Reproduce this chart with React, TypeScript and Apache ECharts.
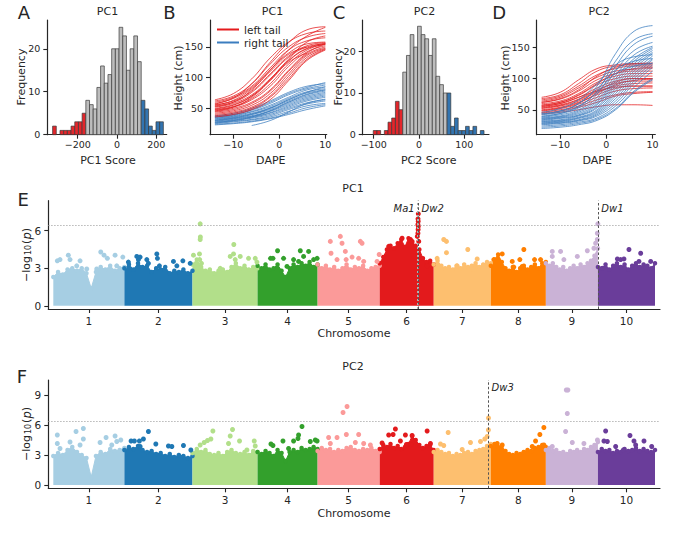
import { useEffect, useRef } from 'react'
import * as echarts from 'echarts'

const FONT = 'DejaVu Sans'
const INK = '#262626'

// ---- panel A / C : histograms of PC scores ----
const PC1_BIN_START = -328
const PC1_BIN_WIDTH = 18.8
const PC1_LEFT_TAIL = [2, 0, 1, 1, 1, 2, 3, 3, 5]
const PC1_MIDDLE = [8, 7, 6, 11, 16, 12, 14, 20, 20, 25, 23, 15, 20, 23, 17]
const PC1_RIGHT_TAIL = [8, 6, 2, 1, 3, 3]

const PC2_BIN_START = -101
const PC2_BIN_WIDTH = 8.15
const PC2_LEFT_TAIL = [1, 1, 0, 1, 3, 4, 8, 6]
const PC2_MIDDLE = [15, 19, 24, 21, 26, 24, 23, 19, 23, 14, 12, 10]
const PC2_RIGHT_TAIL = [10, 2, 4, 1, 1, 2, 1, 2, 0, 1]

// ---- panel B / D : height curves, sampled at these DAPE ----
const DAPE = [-14, -10, -6, -2, 2, 6, 10]

const PC1_LEFT_CURVES = [
  [64, 74, 98, 132, 158, 172, 176],
  [62, 70, 90, 122, 150, 166, 172],
  [60, 68, 86, 116, 145, 160, 165],
  [58, 66, 84, 113, 140, 155, 158],
  [56, 62, 78, 106, 135, 152, 157],
  [54, 60, 76, 104, 133, 150, 155],
  [52, 58, 72, 98, 128, 148, 156],
  [50, 56, 70, 96, 127, 147, 154],
  [48, 53, 66, 90, 122, 145, 155],
  [47, 52, 64, 86, 118, 142, 152],
  [45, 50, 60, 80, 112, 140, 155],
  [44, 48, 58, 78, 110, 138, 150],
  [42, 46, 55, 74, 106, 136, 148],
  [40, 44, 52, 70, 102, 133, 147],
  [38, 42, 50, 68, 98, 130, 146],
  [36, 40, 48, 64, 95, 128, 145],
  [57, 67, 90, 125, 157, 178, 183],
  [53, 60, 80, 112, 145, 168, 182],
  [49, 55, 70, 97, 130, 158, 168],
  [46, 52, 68, 95, 125, 140, null],
  [55, 63, 82, 110, 138, 150, null],
]
const PC1_RIGHT_CURVES = [
  [38, 42, 50, 62, 76, 86, 90],
  [37, 40, 47, 58, 72, 82, 88],
  [36, 39, 45, 55, 68, 80, 85],
  [35, 38, 44, 53, 66, 77, 82],
  [34, 37, 42, 51, 64, 75, 80],
  [33, 36, 41, 50, 62, 73, 80],
  [32, 35, 40, 48, 60, 70, 76],
  [31, 34, 38, 46, 58, 68, 74],
  [30, 33, 37, 45, 56, 66, 72],
  [29, 32, 36, 43, 54, 64, 70],
  [28, 31, 35, 42, 52, 62, 68],
  [27, 30, 34, 40, 50, 59, 65],
  [26, 29, 32, 38, 48, 57, 62],
  [25, 28, 31, 36, 45, 54, 58],
  [24, 26, 29, 34, 42, 51, 56],
  [23, 25, 28, 33, 40, 48, 54],
  [36, 40, 48, 60, 74, 84, 92],
  [30, 34, 40, 50, 64, 76, 85],
  [null, null, 22, 30, 44, 58, 64],
  [27, 30, 36, 46, 60, 72, 78],
]
const PC2_LEFT_CURVES = [
  [70, 78, 98, 116, 122, 124, 124],
  [68, 74, 92, 112, 120, 122, 122],
  [66, 72, 88, 106, 116, 120, 120],
  [64, 70, 85, 102, 112, 115, 116],
  [62, 67, 80, 98, 108, 112, 112],
  [60, 64, 76, 94, 104, 108, 108],
  [58, 62, 73, 90, 100, 104, 104],
  [56, 60, 70, 85, 96, 100, 100],
  [54, 58, 67, 82, 92, 96, 96],
  [52, 56, 64, 78, 88, 92, 93],
  [50, 54, 62, 74, 84, 88, 88],
  [48, 52, 59, 70, 80, 84, 85],
  [46, 50, 56, 66, 74, 78, 79],
  [45, 48, 54, 62, 72, 76, 78],
  [43, 46, 50, 55, 58, 58, 57],
  [62, 68, 82, 104, 118, 124, 125],
  [57, 62, 74, 92, 108, 116, 118],
  [53, 57, 66, 80, 94, 100, 100],
  [49, 53, 61, 76, 90, 97, 99],
  [55, 60, 70, 80, 86, 88, 88],
]
const PC2_RIGHT_CURVES = [
  [44, 48, 60, 88, 140, 176, 185],
  [42, 46, 56, 80, 128, 162, 172],
  [40, 44, 53, 75, 120, 155, 168],
  [38, 42, 50, 70, 112, 145, 158],
  [37, 40, 48, 66, 105, 138, 152],
  [36, 39, 46, 63, 100, 132, 150],
  [35, 38, 44, 60, 96, 128, 148],
  [34, 37, 42, 58, 92, 124, 145],
  [33, 36, 41, 55, 88, 120, 142],
  [32, 34, 40, 53, 84, 116, 140],
  [31, 33, 38, 50, 80, 112, 136],
  [30, 32, 37, 48, 76, 108, 132],
  [29, 31, 36, 46, 72, 104, 130],
  [28, 30, 34, 44, 68, 100, 126],
  [27, 29, 33, 42, 64, 96, 122],
  [26, 28, 32, 40, 60, 92, 118],
  [24, 26, 30, 37, 56, 86, 112],
  [22, 24, 28, 35, 52, 80, 100],
  [20, 22, 26, 33, 50, 78, 98],
  [46, 52, 66, 92, 122, 135, 138],
  [43, 48, 60, 84, 114, 128, 132],
  [39, 44, 55, 78, 108, 120, 124],
]

// ---- panels E / F : GWAS, positions in cumulative genome units ----
const CHROMOSOMES = ['1', '2', '3', '4', '5', '6', '7', '8', '9', '10']
const CHR_LENGTH = [71, 68, 65, 60, 62, 54, 57, 55, 52, 57]
const CHR_COLORS = ['#a6cee3', '#1f78b4', '#b2df8a', '#33a02c', '#fb9a99', '#e31a1c', '#fdbf6f', '#ff7f00', '#cab2d6', '#6a3d9a']
const THRESHOLD = 6.4

// upper edge of the dense SNP cloud, evenly spaced along each chromosome
const PC1_ENVELOPE = [
  [2.3, 2.7, 2.5, 2.9, 3.0, 2.8, 3.0, 2.6, 1.4, 2.7, 3.1, 2.9, 3.2, 2.8, 3.0, 3.1],
  [3.0, 3.3, 2.9, 3.4, 3.1, 3.2, 2.7, 3.0, 2.9, 3.1, 2.6, 2.8, 2.7, 2.9, 2.6, 2.8],
  [3.3, 3.7, 3.1, 2.8, 2.9, 2.6, 2.8, 2.9, 2.7, 3.1, 3.4, 3.0, 3.2, 2.9, 3.1, 3.0],
  [3.2, 3.0, 3.3, 2.9, 3.0, 3.3, 2.8, 2.3, 3.0, 3.3, 3.1, 3.4, 3.2, 3.5, 3.1, 3.3],
  [3.3, 3.0, 3.2, 2.9, 3.1, 2.8, 3.0, 3.3, 2.9, 3.1, 3.0, 3.2, 2.8, 3.0, 3.1, 3.2],
  [3.4, 3.9, 4.5, 4.8, 4.6, 5.0, 5.3, 4.7, 5.4, 5.0, 4.8, 4.5, 3.8, 3.5, 3.6, 3.3],
  [3.3, 3.6, 3.2, 3.0, 3.1, 2.9, 3.2, 3.0, 3.3, 3.1, 3.2, 3.4, 3.1, 3.3, 3.5, 3.4],
  [3.2, 3.7, 4.1, 3.5, 3.0, 2.8, 3.1, 2.7, 3.0, 3.2, 2.9, 3.1, 3.3, 3.0, 3.4, 3.5],
  [3.4, 3.2, 3.4, 3.1, 2.9, 3.1, 2.8, 3.0, 3.2, 3.0, 3.3, 3.1, 3.4, 3.6, 4.0, 4.6],
  [3.1, 3.0, 3.3, 2.9, 3.2, 3.4, 3.1, 3.3, 2.9, 3.2, 3.4, 3.1, 3.3, 3.2, 3.0, 3.4],
]
const PC2_ENVELOPE = [
  [2.9, 3.2, 3.0, 3.5, 3.8, 3.3, 3.0, 2.7, 0.8, 2.9, 3.3, 3.1, 3.6, 3.4, 3.5, 3.7],
  [3.5, 3.8, 3.6, 3.9, 3.5, 3.3, 3.4, 3.1, 3.2, 2.9, 3.1, 2.8, 3.0, 2.9, 2.7, 2.9],
  [3.2, 3.6, 3.3, 3.5, 3.1, 3.0, 3.2, 2.9, 3.3, 3.5, 3.2, 3.1, 3.3, 3.0, 3.4, 3.3],
  [3.3, 3.1, 3.4, 3.2, 2.9, 3.5, 3.2, 2.4, 3.3, 3.5, 3.3, 3.7, 3.5, 3.6, 3.8, 3.6],
  [3.4, 3.7, 3.5, 3.6, 3.3, 3.5, 3.4, 3.7, 3.8, 3.5, 3.4, 3.6, 3.5, 3.7, 3.4, 3.3],
  [3.6, 4.0, 3.8, 4.1, 3.7, 3.9, 3.6, 3.8, 4.1, 4.9, 4.5, 4.0, 3.7, 3.9, 4.0, 3.5],
  [3.3, 3.5, 3.3, 3.1, 3.2, 2.9, 3.1, 3.0, 3.2, 3.3, 3.1, 3.4, 3.5, 3.6, 3.9, 4.1],
  [3.9, 4.1, 3.8, 3.9, 3.4, 3.1, 3.0, 3.2, 3.1, 3.3, 3.5, 3.4, 3.7, 3.8, 4.0, 3.8],
  [3.5, 3.7, 3.4, 3.5, 3.2, 3.3, 3.1, 3.4, 3.3, 3.5, 3.3, 3.6, 3.5, 3.8, 4.0, 4.3],
  [3.3, 3.6, 3.4, 3.5, 3.2, 3.4, 3.3, 3.6, 3.4, 3.5, 3.7, 3.4, 3.6, 3.4, 3.3, 3.5],
]

// SNPs standing above the cloud: [position, -log10(p)]
const PC1_PEAKS = [
  [[4.0, 3.6], [6.7, 3.7], [15, 4.05], [16.7, 3.7], [23.4, 3.2], [26.7, 3.6], [33.4, 2.95], [43.4, 2.95], [47.4, 4.3], [50.7, 4.05], [54, 3.8], [61.7, 4.05], [63.4, 3.2], [69.4, 3.9]],
  [[75, 3.5], [83.4, 3.95], [85, 3.7], [86.7, 3.9], [93.4, 3.7], [95, 3.4], [103.4, 4.15], [104, 3.8], [106, 3.2], [120, 3.55], [123.4, 3.2], [129.4, 3.6], [136.7, 3.4]],
  [[140, 4.05], [146, 4.15], [146.2, 3.7], [146.7, 5.3], [146.9, 5.5], [146.7, 6.55], [148, 3.4], [166.7, 3.0], [176.7, 3.95], [180, 4.15], [180.3, 4.9], [181.7, 3.7], [186.7, 3.95], [195, 3.8], [201.7, 3.8], [203.4, 3.5]],
  [[217, 3.8], [219.4, 3.8], [224, 4.4], [230, 3.8], [233.4, 3.15], [240, 3.7], [245, 3.55], [246.7, 4.4], [250, 3.95], [255, 4.35], [260, 3.7], [263.5, 3.8]],
  [[276.7, 5.15], [277.4, 4.2], [283.4, 3.7], [286.7, 5.55], [288.4, 5.0], [291.7, 4.35], [292.5, 3.7], [298.4, 3.9], [305, 3.8], [306.7, 5.15], [308.4, 5.0], [310, 3.55], [323.4, 3.55], [325.5, 4.1]],
  [[335, 4.75], [348.4, 5.4], [356.7, 5.3], [358.4, 5.15], [363.6, 5.55], [364.2, 5.8], [364.4, 6.1], [364.6, 6.35], [364.2, 6.5], [364.5, 6.75], [364.3, 6.95], [364.6, 7.35], [365, 5.15], [373.4, 3.2]],
  [[383.4, 3.8], [390, 5.3], [392.7, 5.15], [392.7, 4.25], [403.4, 3.2], [414, 4.5], [420, 2.9], [423.4, 3.75]],
  [[440, 3.7], [448.4, 4.15], [458.4, 3.55], [460, 3.1], [466, 3.7], [468.4, 3.15], [470, 4.5], [480.7, 3.7], [486.7, 3.7]],
  [[498.4, 4.35], [498.4, 3.95], [506.7, 4.35], [510, 3.7], [523.4, 3.95], [533.4, 4.4], [540, 4.6], [541.7, 5.0], [543.4, 5.3], [543.4, 5.8], [543.9, 6.55]],
  [[548.4, 3.0], [563.4, 3.75], [566.7, 3.7], [570, 3.75], [575, 4.5], [585, 3.55], [586.7, 4.2], [591.7, 3.1], [596.7, 3.55]],
]
const PC2_PEAKS = [
  [[4.0, 5.0], [4.0, 4.15], [6.7, 3.65], [16.7, 4.3], [22.7, 5.35], [26.7, 4.0], [30, 5.65], [30, 4.6], [46.7, 4.25], [52.7, 4.75], [58.4, 4.0], [61.7, 4.9], [63.4, 4.35], [67.4, 4.5]],
  [[77.7, 4.4], [81, 4.4], [86, 4.4], [86.7, 3.85], [90, 4.6], [95, 5.35], [102.4, 4.1], [115, 3.9], [118.4, 3.85], [130, 3.95], [137.4, 3.5]],
  [[146.7, 4.0], [150.7, 4.25], [154, 4.45], [157.4, 4.6], [159.4, 5.4], [175, 4.15], [176.7, 4.9], [179, 5.55], [186, 4.4], [193.4, 3.5], [200.7, 4.4], [201.7, 3.9]],
  [[217.4, 4.1], [219.4, 3.95], [229.4, 4.4], [235, 3.65], [240, 4.4], [244.4, 4.65], [245, 5.0], [248.4, 5.85], [256.7, 4.35], [261.7, 4.5], [263.5, 4.4]],
  [[275, 4.75], [276.7, 4.15], [283.4, 4.75], [289.4, 7.25], [292.7, 5.05], [293.4, 7.85], [301.7, 4.25], [305, 5.05], [310, 4.15], [316.7, 4.0]],
  [[328.4, 4.2], [335, 5.0], [339.4, 5.05], [341.7, 5.6], [346.7, 4.4], [351.7, 5.0], [352.7, 4.05], [357.4, 4.05], [358.4, 4.95], [373.4, 5.4], [376.7, 4.15]],
  [[386.7, 4.1], [390, 3.95], [394.4, 5.25], [408.4, 3.55], [416.7, 4.25], [426.7, 4.35], [431, 4.6], [433.4, 4.85], [434.6, 5.5], [434.7, 6.7]],
  [[443.4, 4.15], [448.4, 4.0], [470, 3.25], [478.4, 3.85], [481.7, 4.4], [486, 5.05], [490, 4.0], [490, 5.75]],
  [[498.4, 3.85], [503.4, 3.15], [511.7, 5.35], [512.4, 9.5], [513.4, 7.15], [514, 9.5], [518.4, 4.25], [530, 4.15], [543.5, 4.5]],
  [[550, 4.4], [551.7, 5.4], [553.4, 4.35], [561.7, 3.85], [569.4, 3.5], [576, 4.95], [580, 4.4], [581.7, 4.0], [590, 4.4], [597.7, 3.85]],
]

const PC1_GENES = [
  { name: 'Ma1', pos: 364.0, side: 'left' },
  { name: 'Dw2', pos: 364.8, side: 'right' },
  { name: 'Dw1', pos: 544.4, side: 'right' },
]
const PC2_GENES = [{ name: 'Dw3', pos: 434.7, side: 'right' }]

const HIST_COLORS = ['#e3262b', '#bdbdbd', '#3274b0']
const LEFT_COLOR = '#e41a1c'
const RIGHT_COLOR = '#3b7dbf'

const minus = (v: number) => String(v).replace('-', '\u2212')

function histBins(start: number, width: number, groups: number[][]) {
  const out: number[][] = []
  let i = 0
  groups.forEach((counts, g) => {
    counts.forEach((c) => {
      out.push([start + i * width, start + (i + 1) * width, c, g])
      i++
    })
  })
  return out
}

const chrStarts = CHR_LENGTH.map((_, i) => CHR_LENGTH.slice(0, i).reduce((a, b) => a + b, 0))
const chrCenters = chrStarts.map((s, i) => s + CHR_LENGTH[i] / 2)
const genomeEnd = chrStarts[9] + CHR_LENGTH[9]

function axisBase(fontSize: number) {
  return {
    axisLine: { show: true, onZero: false, lineStyle: { color: INK, width: 1.2 } },
    axisTick: { show: true, length: 4, lineStyle: { color: INK, width: 1.1 } },
    axisLabel: { color: INK, fontSize, fontFamily: FONT },
    splitLine: { show: false },
  }
}

function valueAxis(idx: number, min: number, max: number, ticks: number[], fontSize: number, margin: number) {
  const base = axisBase(fontSize)
  return {
    type: 'value',
    gridIndex: idx,
    min,
    max,
    ...base,
    axisTick: { ...base.axisTick, customValues: ticks },
    axisLabel: { ...base.axisLabel, customValues: ticks, margin, formatter: minus },
  }
}

function histSeries(axis: number, data: number[][]) {
  return {
    type: 'custom',
    xAxisIndex: axis,
    yAxisIndex: axis,
    silent: true,
    encode: { x: [0, 1], y: 2 },
    data,
    renderItem: (_params: any, api: any) => {
      const count = api.value(2)
      if (!count) return null
      const tl = api.coord([api.value(0), count])
      const br = api.coord([api.value(1), 0])
      return {
        type: 'rect',
        shape: { x: tl[0], y: tl[1], width: br[0] - tl[0], height: br[1] - tl[1] },
        style: { fill: HIST_COLORS[api.value(3)], stroke: '#3a3a3a', lineWidth: 0.7 },
      }
    },
  }
}

function curveSeries(axis: number, rows: (number | null)[][], color: string, name: string) {
  return rows.map((r) => ({
    type: 'line',
    name,
    xAxisIndex: axis,
    yAxisIndex: axis,
    data: DAPE.map((d, i) => [d, r[i]]),
    smooth: 0.45,
    symbol: 'none',
    showSymbol: false,
    connectNulls: false,
    silent: true,
    itemStyle: { color },
    lineStyle: { color, width: 0.9, opacity: 0.85 },
  }))
}

function manhattanSeries(axis: number, envelope: number[][], peaks: number[][][], genes: any[]) {
  const out: any[] = []
  CHR_LENGTH.forEach((len, c) => {
    const env = envelope[c]
    const color = CHR_COLORS[c]
    out.push({
      type: 'line',
      xAxisIndex: axis,
      yAxisIndex: axis,
      data: env.map((h, k) => [chrStarts[c] + (k * len) / (env.length - 1), h]),
      symbol: 'circle',
      symbolSize: 4.5,
      showSymbol: true,
      showAllSymbol: true,
      silent: true,
      z: 2,
      itemStyle: { color },
      lineStyle: { color, width: 1 },
      areaStyle: { color, opacity: 1 },
    })
    out.push({
      type: 'scatter',
      xAxisIndex: axis,
      yAxisIndex: axis,
      data: peaks[c],
      symbolSize: 5,
      silent: true,
      z: 3,
      itemStyle: { color, opacity: 1 },
    })
  })
  out.push({
    type: 'scatter',
    xAxisIndex: axis,
    yAxisIndex: axis,
    data: [],
    silent: true,
    z: 4,
    markLine: {
      silent: true,
      symbol: 'none',
      label: { show: false },
      data: [
        { yAxis: THRESHOLD, lineStyle: { color: '#9a9a9a', type: [1.2, 1.8], width: 0.9 } },
        ...genes.map((g: any) => ({
          xAxis: g.pos,
          lineStyle: g.name === 'Ma1'
            ? { color: '#b0b0b0', type: [2, 2], width: 2 }
            : { color: '#555555', type: [2.5, 2], width: 1 },
        })),
      ],
    },
  })
  return out
}

function label(text: string, x: number, y: number, fontSize = 11, extra: any = {}) {
  return {
    type: 'text',
    x,
    y,
    silent: true,
    style: { text, fill: INK, fontSize, fontFamily: FONT, align: 'center', verticalAlign: 'middle', ...extra },
  }
}

function vlabel(text: string, x: number, y: number, extra: any = {}) {
  return { ...label(text, x, y, 11, extra), rotation: Math.PI / 2 }
}

export default function App() {
  const ref = useRef<HTMLDivElement | null>(null)

  useEffect(() => {
    document.body.style.margin = '0'
    if (!ref.current) return
    const chart = echarts.init(ref.current, undefined, { renderer: 'svg' })

    const chrAxis = (idx: number) => ({
      ...valueAxis(idx, -5, genomeEnd + 5, chrCenters, 10.5, 6),
      axisLabel: {
        ...axisBase(10.5).axisLabel,
        customValues: chrCenters,
        margin: 6,
        formatter: (v: number) => CHROMOSOMES[chrCenters.findIndex((c) => Math.abs(c - v) < 0.01)] ?? '',
      },
    })

    const logName = {
      text: '\u2212log{s|10}({i|p})',
      rich: {
        s: { fontSize: 8, fontFamily: FONT, fill: INK, verticalAlign: 'bottom', lineHeight: 8, padding: [0, 1, 0, 1] },
        i: { fontSize: 11.5, fontFamily: FONT, fill: INK, fontStyle: 'italic' },
      },
    }

    const geneTexts = (genes: any[], y: number) =>
      genes.map((g) => {
        const gx = 48.3 + ((g.pos + 5) / (genomeEnd + 10)) * 611.7
        return label(g.name, g.side === 'left' ? gx - 3 : gx + 3, y, 10, {
          fontStyle: 'italic',
          align: g.side === 'left' ? 'right' : 'left',
        })
      })

    chart.setOption({
      animation: false,
      textStyle: { fontFamily: FONT },
      legend: {
        data: ['left tail', 'right tail'],
        left: 212,
        top: 19,
        orient: 'vertical',
        itemGap: 2,
        itemWidth: 22,
        itemHeight: 2,
        icon: 'rect',
        selectedMode: false,
        textStyle: { fontSize: 10.5, fontFamily: FONT, color: INK },
      },
      grid: [
        { left: 47.3, top: 20, width: 119.4, height: 114.7 },
        { left: 210, top: 20, width: 116.7, height: 114.7 },
        { left: 362.7, top: 20, width: 126.3, height: 114.7 },
        { left: 536.7, top: 20, width: 118.6, height: 114.7 },
        { left: 48.3, top: 200.7, width: 611.7, height: 108.3 },
        { left: 48.3, top: 380, width: 611.7, height: 108.3 },
      ],
      xAxis: [
        valueAxis(0, -355, 253, [-200, 0, 200], 9.5, 5),
        valueAxis(1, -15.07, 10.3, [-10, 0, 10], 9.5, 5),
        valueAxis(2, -124.3, 154.5, [-100, 0, 100], 9.5, 5),
        valueAxis(3, -15.07, 10.6, [-10, 0, 10], 9.5, 5),
        chrAxis(4),
        chrAxis(5),
      ],
      yAxis: [
        valueAxis(0, 0, 26.7, [0, 10, 20], 9.5, 7),
        valueAxis(1, 7, 194, [50, 100, 150], 9.5, 7),
        valueAxis(2, 0, 27.5, [0, 10, 20], 9.5, 7),
        valueAxis(3, 10, 194, [50, 100, 150], 9.5, 7),
        valueAxis(4, -0.25, 8.4, [0, 3, 6], 10.5, 7),
        valueAxis(5, -0.33, 10.5, [0, 3, 6, 9], 10.5, 7),
      ],
      series: [
        histSeries(0, histBins(PC1_BIN_START, PC1_BIN_WIDTH, [PC1_LEFT_TAIL, PC1_MIDDLE, PC1_RIGHT_TAIL])),
        ...curveSeries(1, PC1_RIGHT_CURVES, RIGHT_COLOR, 'right tail'),
        ...curveSeries(1, PC1_LEFT_CURVES, LEFT_COLOR, 'left tail'),
        histSeries(2, histBins(PC2_BIN_START, PC2_BIN_WIDTH, [PC2_LEFT_TAIL, PC2_MIDDLE, PC2_RIGHT_TAIL])),
        ...curveSeries(3, PC2_LEFT_CURVES, LEFT_COLOR, 'left tail'),
        ...curveSeries(3, PC2_RIGHT_CURVES, RIGHT_COLOR, 'right tail'),
        ...manhattanSeries(4, PC1_ENVELOPE, PC1_PEAKS, PC1_GENES),
        ...manhattanSeries(5, PC2_ENVELOPE, PC2_PEAKS, PC2_GENES),
      ],
      graphic: [
        label('A', 24, 12.5, 18),
        label('B', 169.3, 12, 18),
        label('C', 339, 12, 18),
        label('D', 499.3, 12, 18),
        label('E', 23.3, 199.3, 18),
        label('F', 22, 376, 18),
        label('PC1', 107.5, 11),
        label('PC1', 272.5, 11),
        label('PC2', 424.5, 11),
        label('PC2', 599.2, 11),
        label('PC1', 353, 188),
        label('PC2', 353, 366.5),
        label('PC1 Score', 108, 160.7),
        label('DAPE', 270.8, 160.7),
        label('PC2 Score', 428.8, 160.7),
        label('DAPE', 597.2, 160.7),
        vlabel('Frequency', 21.7, 77),
        vlabel('Height (cm)', 178.3, 78),
        vlabel('Frequency', 338, 77),
        vlabel('Height (cm)', 505, 78),
        label('Chromosome', 354, 333.3),
        label('Chromosome', 354, 513),
        vlabel('', 26.7, 255, logName),
        vlabel('', 26.7, 434, logName),
        ...geneTexts(PC1_GENES, 208),
        ...geneTexts(PC2_GENES, 387),
      ],
    })

    return () => chart.dispose()
  }, [])

  return <div ref={ref} style={{ width: 680, height: 537 }} />
}
